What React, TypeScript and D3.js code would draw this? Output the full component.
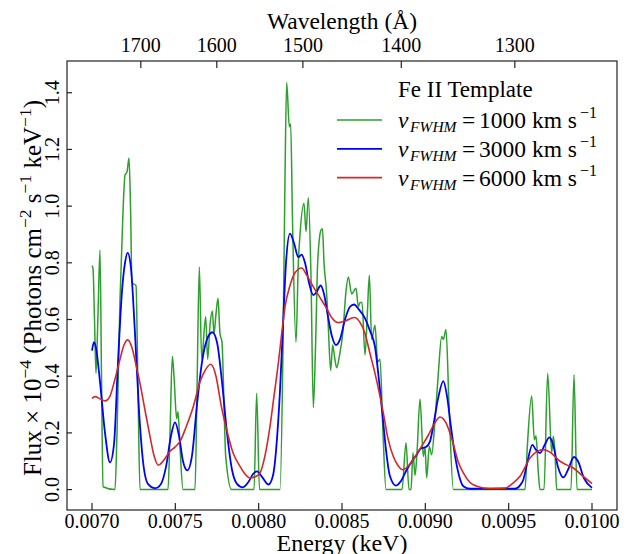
import React from "react";
import * as d3 from "d3";

// ---------- data (energy in keV, flux in 1e-4 units) ----------
const greenEnergy = [
  0.007, 0.007006, 0.007015, 0.007024, 0.007036, 0.007048, 0.007057, 0.007066, 0.007138, 0.00715,
  0.007168, 0.007186, 0.007198, 0.00721, 0.007222, 0.007231, 0.00724, 0.007264, 0.007276, 0.007288,
  0.007456, 0.007468, 0.007482, 0.007492, 0.007508, 0.007516, 0.007528, 0.007546, 0.007618, 0.00763,
  0.007644, 0.007658, 0.007682, 0.007694, 0.007708, 0.007722, 0.007732, 0.007744, 0.007756, 0.007768,
  0.00778, 0.007792, 0.007802, 0.007838, 0.007972, 0.007988, 0.008005, 0.008128, 0.008146, 0.008158,
  0.008168, 0.008184, 0.008192, 0.008203, 0.008224, 0.008238, 0.008248, 0.008272, 0.008284, 0.008298,
  0.008314, 0.008328, 0.008341, 0.008354, 0.008374, 0.008383, 0.008392, 0.008407, 0.008416, 0.008432,
  0.008444, 0.008455, 0.008468, 0.008484, 0.008506, 0.008524, 0.008538, 0.008558, 0.008584, 0.008598,
  0.008608, 0.00862, 0.008638, 0.008652, 0.008664, 0.008678, 0.008698, 0.008714, 0.008728, 0.008746,
  0.008764, 0.00886, 0.008884, 0.008902, 0.008914, 0.008926, 0.008938, 0.00895, 0.008968, 0.008988,
  0.008998, 0.009008, 0.009024, 0.009038, 0.009058, 0.009078, 0.009098, 0.009108, 0.009124, 0.009142,
  0.009168, 0.009598, 0.009612, 0.009638, 0.009654, 0.009664, 0.009678, 0.009688, 0.009712, 0.009734,
  0.009758, 0.009768, 0.009778, 0.009788, 0.009874, 0.009892, 0.00991, 0.01,
];
const greenFlux = [
  0.79, 0.78, 0.6, 0.41, 0.62, 0.845, 0.4, 0.01, 0.0, 0.2,
  0.67, 0.98, 1.11, 1.12, 1.17, 1.0, 0.73, 0.72, 0.35, 0.0,
  0.0, 0.2, 0.47, 0.4, 0.25, 0.275, 0.15, 0.0, 0.0, 0.35,
  0.785, 0.46, 0.61, 0.46, 0.58, 0.63, 0.55, 0.62, 0.675, 0.55,
  0.52, 0.3, 0.12, 0.0, 0.0, 0.34, 0.0, 0.0, 0.5, 1.1,
  1.436, 1.28, 1.29, 0.95, 0.52, 0.8, 0.9, 1.01, 0.91, 1.03,
  0.75, 0.29, 0.5, 0.8, 0.915, 0.92, 0.8, 0.7, 0.6, 0.42,
  0.51, 0.47, 0.43, 0.47, 0.56, 0.7, 0.75, 0.69, 0.71, 0.645,
  0.66, 0.66, 0.475, 0.62, 0.756, 0.53, 0.58, 0.45, 0.46, 0.2,
  0.0, 0.0, 0.165, 0.0, 0.0, 0.13, 0.05, 0.13, 0.32, 0.117,
  0.15, 0.042, 0.152, 0.123, 0.246, 0.41, 0.54, 0.53, 0.565, 0.3,
  0.0, 0.0, 0.152, 0.33, 0.176, 0.19, 0.06, 0.0, 0.0, 0.41,
  0.13, 0.188, 0.13, 0.0, 0.0, 0.405, 0.0, 0.0,
];

const blueEnergy = [
  0.007, 0.007012, 0.007024, 0.007048, 0.007078, 0.007108, 0.007132, 0.007156, 0.00718, 0.007198,
  0.007214, 0.007234, 0.007258, 0.007282, 0.007306, 0.007336, 0.007378, 0.007414, 0.007444, 0.007474,
  0.007498, 0.007522, 0.007546, 0.007572, 0.0076, 0.00763, 0.00766, 0.00769, 0.007722, 0.00775,
  0.00778, 0.00781, 0.00784, 0.00787, 0.007904, 0.007942, 0.007966, 0.00799, 0.00802, 0.008058,
  0.008086, 0.00811, 0.008128, 0.008146, 0.008164, 0.008188, 0.008212, 0.008238, 0.008258, 0.008278,
  0.008302, 0.008328, 0.00835, 0.008372, 0.008392, 0.008416, 0.00844, 0.008464, 0.008488, 0.008518,
  0.008548, 0.008572, 0.008602, 0.008638, 0.008668, 0.008698, 0.008728, 0.008748, 0.008764, 0.008788,
  0.008824, 0.008854, 0.008888, 0.00892, 0.008948, 0.008974, 0.009004, 0.009028, 0.009052, 0.009076,
  0.009108, 0.00913, 0.009154, 0.009178, 0.009202, 0.009228, 0.009268, 0.009538, 0.009568, 0.009588,
  0.00961, 0.009642, 0.009664, 0.009688, 0.009718, 0.009744, 0.009766, 0.009796, 0.009828, 0.009856,
  0.009892, 0.009916, 0.009952, 0.01,
];
const blueFlux = [
  0.49, 0.52, 0.5, 0.38, 0.2, 0.096, 0.16, 0.45, 0.7, 0.8,
  0.835, 0.78, 0.55, 0.28, 0.1, 0.02, 0.005, 0.02, 0.08, 0.19,
  0.237, 0.19, 0.1, 0.068, 0.12, 0.3, 0.45, 0.53, 0.555, 0.52,
  0.38, 0.2, 0.07, 0.02, 0.008, 0.03, 0.055, 0.064, 0.045, 0.018,
  0.05, 0.18, 0.35, 0.58, 0.8, 0.903, 0.87, 0.82, 0.829, 0.8,
  0.73, 0.686, 0.7, 0.72, 0.69, 0.61, 0.54, 0.51, 0.53, 0.6,
  0.645, 0.653, 0.635, 0.604, 0.56, 0.504, 0.35, 0.234, 0.14, 0.047,
  0.014, 0.03, 0.07, 0.1, 0.123, 0.145, 0.15, 0.17, 0.24, 0.32,
  0.383, 0.33, 0.22, 0.12, 0.05, 0.012, 0.003, 0.003, 0.015, 0.035,
  0.09, 0.158, 0.14, 0.129, 0.16, 0.184, 0.16, 0.08, 0.043, 0.07,
  0.115, 0.1, 0.04, 0.006,
];

const redEnergy = [
  0.007, 0.007018, 0.007048, 0.007078, 0.007108, 0.007138, 0.007168, 0.007192, 0.007214, 0.00724,
  0.007264, 0.007288, 0.007318, 0.007348, 0.007372, 0.007398, 0.007426, 0.007468, 0.007498, 0.007528,
  0.007564, 0.007608, 0.007648, 0.007678, 0.007712, 0.007744, 0.007774, 0.007808, 0.007846, 0.007888,
  0.007918, 0.007948, 0.007978, 0.008008, 0.008038, 0.008068, 0.008092, 0.008118, 0.00814, 0.008158,
  0.008188, 0.008218, 0.008258, 0.00829, 0.008328, 0.008378, 0.008408, 0.00844, 0.008478, 0.008524,
  0.008572, 0.008608, 0.008638, 0.008668, 0.008698, 0.008748, 0.008776, 0.008808, 0.008836, 0.008864,
  0.008908, 0.008948, 0.00898, 0.009016, 0.009052, 0.009088, 0.009124, 0.009168, 0.009196, 0.009228,
  0.009268, 0.009308, 0.009388, 0.009478, 0.00952, 0.009568, 0.009628, 0.009664, 0.009708, 0.009748,
  0.009808, 0.009844, 0.009888, 0.00994, 0.01,
];
const redFlux = [
  0.322, 0.328, 0.32, 0.313, 0.33, 0.39, 0.46, 0.51, 0.528, 0.5,
  0.44, 0.375, 0.28, 0.188, 0.12, 0.086, 0.1, 0.135, 0.15, 0.17,
  0.22, 0.293, 0.38, 0.42, 0.442, 0.4, 0.3, 0.211, 0.13, 0.082,
  0.055, 0.041, 0.045, 0.059, 0.12, 0.223, 0.33, 0.446, 0.56, 0.645,
  0.72, 0.765, 0.782, 0.755, 0.715, 0.668, 0.639, 0.605, 0.589, 0.596,
  0.607, 0.59, 0.551, 0.48, 0.41, 0.27, 0.18, 0.117, 0.085, 0.07,
  0.09, 0.125, 0.155, 0.19, 0.23, 0.256, 0.235, 0.16, 0.1, 0.059,
  0.025, 0.012, 0.004, 0.005, 0.02, 0.047, 0.111, 0.132, 0.141, 0.132,
  0.1, 0.088, 0.076, 0.05, 0.021,
];

const energyTicks = [0.007, 0.0075, 0.008, 0.0085, 0.009, 0.0095, 0.01];
const fluxTicks = [0, 0.2, 0.4, 0.6, 0.8, 1.0, 1.2, 1.4];
const wavelengthTicks = [1700, 1600, 1500, 1400, 1300];
const HC = 12.398; // keV * Angstrom  -> E[keV] = HC / lambda[Angstrom]

const seriesNames = ["1000", "3000", "6000"];
const seriesColors = ["#2ca02c", "#0000ff", "#d62728"];

// ---------- layout ----------
const W = 634;
const H = 554;
const L = 67;
const R = 617;
const T = 61;
const B = 510;
const FONT = "'Liberation Serif', 'Times New Roman', serif";

export default function App() {
  const x = d3.scaleLinear().domain([0.00685, 0.01015]).range([L, R]);
  const y = d3.scaleLinear().domain([-0.072, 1.512]).range([B, T]);

  const line = d3
    .line<[number, number]>()
    .x((d) => x(d[0]))
    .y((d) => y(d[1]))
    .curve(d3.curveMonotoneX);

  const series = [
    d3.zip(greenEnergy, greenFlux) as [number, number][],
    d3.zip(blueEnergy, blueFlux) as [number, number][],
    d3.zip(redEnergy, redFlux) as [number, number][],
  ];
  const widths = [1.5, 1.8, 1.6];
  const fmt = d3.format(".4f");
  const fmtY = d3.format(".1f");

  return (
    <svg
      width={W}
      height={H}
      style={{ position: "absolute", left: 0, top: 0, background: "#fff", fontFamily: FONT }}
      fontFamily={FONT}
    >
      <defs>
        <clipPath id="plotclip">
          <rect x={L} y={T} width={R - L} height={B - T} />
        </clipPath>
      </defs>
      <rect x={0} y={0} width={W} height={H} fill="#fff" />

      <g clipPath="url(#plotclip)">
        {series.map((s, i) => (
          <path
            key={i}
            d={line(s) || ""}
            fill="none"
            stroke={seriesColors[i]}
            strokeWidth={widths[i]}
            strokeLinejoin="round"
          />
        ))}
      </g>

      {/* frame */}
      <rect x={L} y={T} width={R - L} height={B - T} fill="none" stroke="#222" strokeWidth={1.2} />

      {/* bottom ticks */}
      {energyTicks.map((t) => (
        <g key={"b" + t}>
          <line x1={x(t)} x2={x(t)} y1={B} y2={B - 7} stroke="#222" strokeWidth={1.2} />
          <text x={x(t)} y={528} textAnchor="middle" fontSize={20}>
            {fmt(t)}
          </text>
        </g>
      ))}
      <text x={(L + R) / 2} y={551} textAnchor="middle" fontSize={24}>
        Energy (keV)
      </text>

      {/* top ticks (wavelength) */}
      {wavelengthTicks.map((w) => (
        <g key={"t" + w}>
          <line x1={x(HC / w)} x2={x(HC / w)} y1={T} y2={T + 7} stroke="#222" strokeWidth={1.2} />
          <text x={x(HC / w)} y={52} textAnchor="middle" fontSize={20}>
            {w}
          </text>
        </g>
      ))}
      <text x={(L + R) / 2} y={29} textAnchor="middle" fontSize={23.5}>
        Wavelength (Å)
      </text>

      {/* left ticks */}
      {fluxTicks.map((t) => (
        <g key={"l" + t}>
          <line x1={L} x2={L + 5} y1={y(t)} y2={y(t)} stroke="#222" strokeWidth={1.2} />
          <text
            transform={`translate(59,${y(t)}) rotate(-90)`}
            textAnchor="middle"
            fontSize={20}
          >
            {fmtY(t)}
          </text>
        </g>
      ))}
      <text transform={`translate(41,288) rotate(-90)`} textAnchor="middle" fontSize={25}>
        <tspan>Flux</tspan>
        <tspan>{" × 10"}</tspan>
        <tspan fontSize={17.5} dy={-10}>−4</tspan>
        <tspan dy={10}>{" (Photons cm"}</tspan>
        <tspan fontSize={17.5} dy={-10}>−2</tspan>
        <tspan dy={10}>{" s"}</tspan>
        <tspan fontSize={17.5} dy={-10}>−1</tspan>
        <tspan dy={10}>{" keV"}</tspan>
        <tspan fontSize={17.5} dy={-10}>−1</tspan>
        <tspan dy={10}>)</tspan>
      </text>

      {/* legend */}
      <text x={398} y={97} fontSize={23}>
        Fe II Template
      </text>
      {seriesNames.map((n, i) => {
        const ly = 120 + i * 28.8;
        return (
          <g key={"lg" + n}>
            <line x1={337} x2={382} y1={ly} y2={ly} stroke={seriesColors[i]} strokeWidth={widths[i]} />
            <text y={ly + 8} fontSize={23.5}>
              <tspan x={398} fontStyle="italic">v</tspan>
              <tspan x={410} fontStyle="italic" fontSize={15.5} dy={4}>FWHM</tspan>
              <tspan x={462} dy={-4}>=</tspan>
              <tspan x={479}>{n + " km s"}</tspan>
              <tspan x={580} fontSize={16} dy={-10}>−1</tspan>
            </text>
          </g>
        );
      })}
    </svg>
  );
}
